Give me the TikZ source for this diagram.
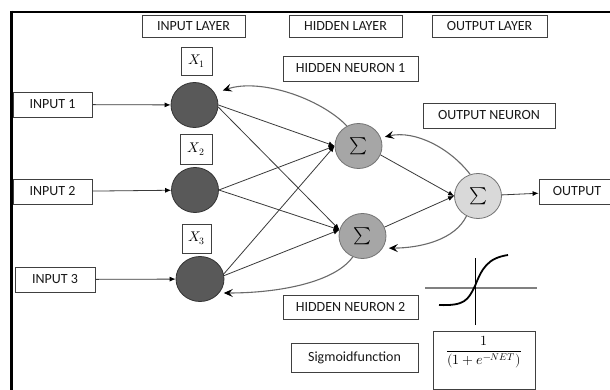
\documentclass[tikz,border=0pt]{standalone}
\usepackage{amsmath}
\usepackage{fontspec}
\usepackage{unicode-math}
\setmainfont{Carlito}
\setmathfont{Latin Modern Math}
\usetikzlibrary{arrows.meta,shapes.geometric}
\definecolor{incol}{HTML}{595959}
\definecolor{hidcol}{HTML}{A6A6A6}
\definecolor{outcol}{HTML}{D9D9D9}
\definecolor{boxc}{HTML}{404040}
\definecolor{edgec}{HTML}{3A3A3A}
\definecolor{fbc}{HTML}{6A6A6A}
\begin{document}
\begin{tikzpicture}[x=1pt,y=-1pt,
  lbl/.style={draw=boxc, line width=0.8pt, rectangle, inner sep=0pt,
    font=\fontsize{14}{16}\selectfont, text=black!90},
  xlbl/.style={draw=boxc, line width=0.8pt, rectangle, inner sep=0pt,
    font=\fontsize{14}{16}\selectfont},
  neuron/.style={ellipse, line width=0.8pt, inner sep=0pt,
    minimum width=47pt, minimum height=45pt, font=\fontsize{17}{17}\selectfont},
  inneuron/.style={neuron, draw=black!80, fill=incol},
  hidneuron/.style={neuron, draw=black!55, fill=hidcol},
  outneuron/.style={neuron, draw=black!55, fill=outcol},
  conn/.style={draw=edgec, line width=0.8pt, -{Latex[length=6pt,width=5pt,black]}},
  fb/.style={draw=fbc, line width=1.1pt, -{Stealth[length=9pt,width=8pt,inset=3.5pt,black]}}
]
\useasboundingbox (0,0) rectangle (610,390);
\clip (0,0) rectangle (610,390);
\fill[white] (0,0) rectangle (610,390);

% frame
\draw[line width=2.5pt] (10,12) -- (612,12);
\draw[line width=3.5pt] (11.5,10.75) -- (11.5,392);

% layer headings
\node[lbl, minimum width=103pt, minimum height=22pt] (IL) at (193.5,26) {INPUT LAYER};
\node[lbl, minimum width=113pt, minimum height=22pt] (HL) at (345.5,26) {HIDDEN LAYER};
\node[lbl, minimum width=115pt, minimum height=22pt] (OL) at (489.5,26) {OUTPUT LAYER};

% x labels
\node[xlbl, minimum width=31pt, minimum height=28pt] (X1) at (196.5,61) {$X_1$};
\node[xlbl, minimum width=32pt, minimum height=30pt] (X2) at (196,149) {$X_2$};
\node[xlbl, minimum width=29pt, minimum height=29pt] (X3) at (196.5,238.5) {$X_3$};

% other labels
\node[lbl, minimum width=135pt, minimum height=25pt] (HN1) at (350.5,68.5) {HIDDEN NEURON 1};
\node[lbl, minimum width=132pt, minimum height=25pt] (ON) at (489,115.5) {OUTPUT NEURON};
\node[lbl, minimum width=135pt, minimum height=24pt] (HN2) at (350.5,307) {HIDDEN NEURON 2};
\node[lbl, minimum width=127pt, minimum height=29pt] (SF) at (354.5,357.5) {Sigmoidfunction};

% inputs
\node[lbl, minimum width=79pt, minimum height=25pt] (IN1) at (52.5,104.5) {INPUT 1};
\node[lbl, minimum width=79pt, minimum height=25pt] (IN2) at (52.5,191.5) {INPUT 2};
\node[lbl, minimum width=80pt, minimum height=25pt] (IN3) at (55,279.5) {INPUT 3};
\node[lbl, minimum width=76pt, minimum height=25pt] (OUT) at (577,191.5) {OUTPUT};

% neurons
\node[inneuron] (C1) at (194.5,105) {};
\node[inneuron] (C2) at (195,190) {};
\node[inneuron, minimum width=48pt] (C3) at (200,279) {};
\node[hidneuron] (H1) at (358.5,146) {$\sum$};
\node[hidneuron] (H2) at (362.5,236) {$\sum$};
\node[outneuron] (O) at (478,196) {$\sum$};

% input arrows
\draw[conn] (IN1) -- (C1);
\draw[conn] (IN2) -- (C2);
\draw[conn] (IN3) -- (C3);

% input -> hidden
\draw[conn] (C1.east) -- (H1.west);
\draw[conn] (C1.-5) -- (H2.165);
\draw[conn] (C2.east) -- (H1.west);
\draw[conn] (C2.east) -- (H2.165);
\draw[conn] (C3.12) -- (H1.west);
\draw[conn] (C3.8) -- (H2.165);

% hidden -> output
\draw[conn] (H1.-22) -- (O.west);
\draw[conn] (H2.22) -- (O.west);
\draw[conn] (O) -- (OUT);

% feedback curves
\draw[fb] (H1.120) .. controls (320,98) and (260,78) .. ([shift={(9,-1)}]C1.35);
\draw[fb] (O.110) .. controls (450,148) and (415,130) .. ([shift={(4,-1)}]H1.20);
\draw[fb] (O.240) .. controls (455,240) and (420,248) .. ([shift={(4,4)}]H2.-20);
\draw[fb] (H2.245) .. controls (335,282) and (280,293) .. ([shift={(3,2)}]C3.-30);

% sigmoid sketch
\coordinate (SO) at (475,288);
\draw[gray, line width=1.1pt] ([xshift=-50pt]SO) -- ([xshift=62pt]SO);
\draw[black, line width=1pt] ([yshift=-37pt]SO) -- ([yshift=30pt]SO);
\draw[black, line width=1.8pt] (439,305) .. controls (465,306) and (468,300) .. (475,286)
   .. controls (482,268) and (488,258) .. (508,255);

% formula
\node[lbl, minimum width=102pt, minimum height=58pt] (FMB) at (484,360) {};
\node[inner sep=0pt, font=\fontsize{14}{16}\selectfont] (FM) at (484,352) {$\dfrac{1}{(1+e^{-NET})}$};
\end{tikzpicture}
\end{document}
